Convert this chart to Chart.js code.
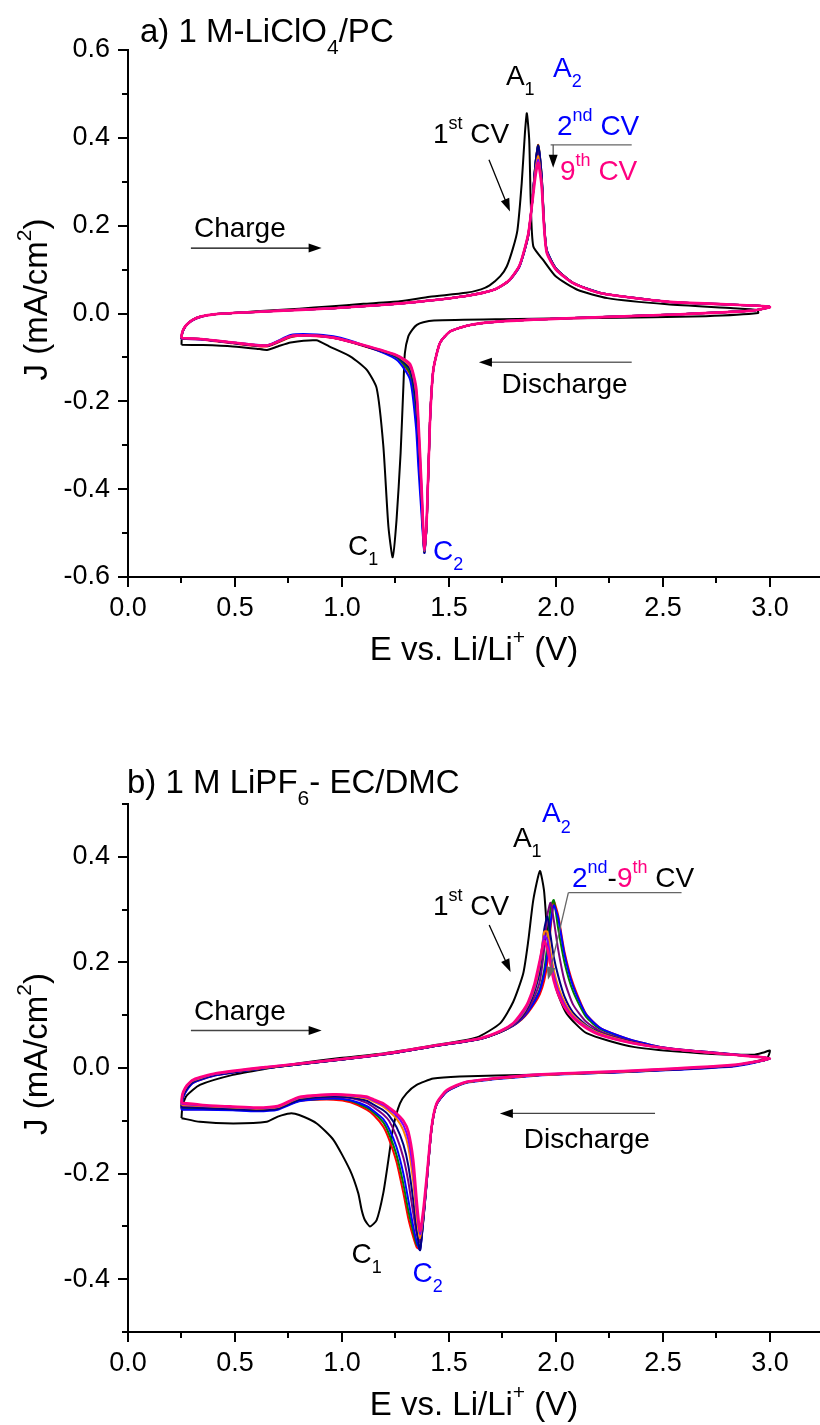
<!DOCTYPE html>
<html>
<head>
<meta charset="utf-8">
<script src="https://cdn.jsdelivr.net/npm/chart.js@4.4.0/dist/chart.umd.min.js"></script>
<style>
  html, body { margin: 0; padding: 0; background: #fff; }
  .panel { position: absolute; left: 0; width: 820px; }
  #wrapA { top: 0; height: 700px; }
  #wrapB { top: 700px; height: 725px; }
</style>
</head>
<body>
<div class="panel" id="wrapA"><canvas id="cvA"></canvas></div>
<div class="panel" id="wrapB"><canvas id="cvB"></canvas></div>
<script>
// ---- panel a) 1 M LiClO4 / PC ----
// 1st cycle, potential (V) and current density (mA/cm2), read along the sweep
const a_E1 = [0.25, 0.252, 0.26, 0.275, 0.30, 0.34, 0.40, 0.49, 0.60, 0.80, 0.94, 1.10, 1.27, 1.41, 1.58, 1.65, 1.69, 1.74, 1.77, 1.80,
  1.82, 1.84, 1.855, 1.864, 1.875, 1.882, 1.894, 1.94, 2.00, 2.10, 2.24, 2.52, 2.83, 2.94, 2.945, 2.70, 2.21, 1.74, 1.43, 1.38,
  1.35, 1.33, 1.31, 1.294, 1.287, 1.274, 1.255, 1.237, 1.217, 1.193, 1.162, 1.115, 1.04, 0.94, 0.88, 0.76, 0.70, 0.65, 0.60, 0.49, 0.35, 0.25];
const a_J1 = [-0.071, -0.05, -0.035, -0.025, -0.015, -0.007, -0.002, 0.001, 0.005, 0.011, 0.016, 0.022, 0.028, 0.038, 0.047, 0.055, 0.064, 0.085, 0.107, 0.15,
  0.19, 0.297, 0.411, 0.456, 0.396, 0.259, 0.153, 0.122, 0.084, 0.054, 0.035, 0.021, 0.012, 0.008, 0.001, -0.006, -0.01, -0.013, -0.016, -0.02,
  -0.026, -0.036, -0.052, -0.09, -0.166, -0.318, -0.47, -0.555, -0.485, -0.3, -0.17, -0.128, -0.098, -0.075, -0.061, -0.066, -0.075, -0.083, -0.08, -0.075, -0.072, -0.071];

// cycles 2..9 share one potential grid
const a_E = [0.25, 0.252, 0.26, 0.275, 0.30, 0.34, 0.40, 0.49, 0.70, 0.96, 1.20, 1.36, 1.58, 1.71, 1.78, 1.83, 1.87, 1.89, 1.905, 1.917, 1.933, 1.944, 1.957, 2.00, 2.08, 2.21, 2.52, 2.83, 3.00,
  2.91, 2.52, 2.05, 1.74, 1.60, 1.505, 1.458, 1.427, 1.411, 1.396, 1.385, 1.372, 1.357, 1.346, 1.318, 1.255, 1.10, 0.96, 0.85, 0.76, 0.65, 0.49, 0.34, 0.25];
const a_J2 = [-0.058, -0.047, -0.036, -0.026, -0.016, -0.008, -0.002, 0.001, 0.006, 0.012, 0.02, 0.027, 0.04, 0.054, 0.074, 0.108, 0.175, 0.258, 0.345, 0.384, 0.315, 0.212, 0.144, 0.103, 0.07, 0.047, 0.027, 0.02, 0.015,
  0.006, -0.003, -0.011, -0.018, -0.026, -0.041, -0.067, -0.128, -0.25, -0.48, -0.54, -0.44, -0.32, -0.23, -0.14, -0.1, -0.074, -0.056, -0.051, -0.054, -0.075, -0.068, -0.059, -0.058];
const a_J3 = [-0.057, -0.047, -0.036, -0.025, -0.015, -0.007, -0.002, 0.001, 0.006, 0.012, 0.02, 0.027, 0.04, 0.054, 0.074, 0.108, 0.175, 0.258, 0.345, 0.383, 0.315, 0.215, 0.145, 0.103, 0.07, 0.047, 0.027, 0.02, 0.015,
  0.006, -0.003, -0.011, -0.018, -0.026, -0.041, -0.067, -0.128, -0.25, -0.48, -0.54, -0.43, -0.3, -0.215, -0.135, -0.1, -0.073, -0.055, -0.05, -0.053, -0.074, -0.067, -0.058, -0.057];
const a_J4 = [-0.058, -0.048, -0.037, -0.026, -0.016, -0.008, -0.002, 0.001, 0.006, 0.012, 0.02, 0.027, 0.04, 0.054, 0.074, 0.107, 0.175, 0.258, 0.345, 0.38, 0.315, 0.212, 0.145, 0.103, 0.07, 0.047, 0.027, 0.02, 0.015,
  0.006, -0.003, -0.011, -0.018, -0.026, -0.041, -0.067, -0.128, -0.25, -0.48, -0.545, -0.46, -0.35, -0.26, -0.15, -0.105, -0.072, -0.052, -0.047, -0.049, -0.072, -0.066, -0.059, -0.058];
const a_J5 = [-0.057, -0.047, -0.036, -0.025, -0.015, -0.007, -0.002, 0.001, 0.006, 0.012, 0.02, 0.027, 0.04, 0.054, 0.075, 0.109, 0.178, 0.26, 0.34, 0.375, 0.308, 0.208, 0.142, 0.102, 0.07, 0.046, 0.027, 0.02, 0.015,
  0.006, -0.003, -0.011, -0.018, -0.026, -0.041, -0.067, -0.128, -0.25, -0.475, -0.54, -0.41, -0.265, -0.185, -0.122, -0.097, -0.073, -0.054, -0.049, -0.051, -0.073, -0.067, -0.058, -0.057];
const a_J6 = [-0.057, -0.047, -0.036, -0.025, -0.015, -0.007, -0.002, 0.001, 0.006, 0.012, 0.02, 0.027, 0.04, 0.054, 0.075, 0.109, 0.178, 0.26, 0.345, 0.382, 0.31, 0.21, 0.142, 0.102, 0.07, 0.046, 0.027, 0.02, 0.015,
  0.006, -0.003, -0.011, -0.018, -0.026, -0.041, -0.067, -0.128, -0.25, -0.48, -0.545, -0.42, -0.28, -0.2, -0.128, -0.098, -0.073, -0.055, -0.05, -0.052, -0.074, -0.067, -0.058, -0.057];
const a_J7 = [-0.056, -0.046, -0.035, -0.025, -0.015, -0.007, -0.002, 0.001, 0.006, 0.012, 0.02, 0.027, 0.04, 0.054, 0.075, 0.11, 0.18, 0.26, 0.33, 0.358, 0.3, 0.205, 0.14, 0.101, 0.069, 0.046, 0.027, 0.02, 0.015,
  0.006, -0.003, -0.011, -0.018, -0.026, -0.041, -0.067, -0.128, -0.25, -0.475, -0.54, -0.405, -0.255, -0.178, -0.12, -0.096, -0.072, -0.055, -0.05, -0.052, -0.073, -0.066, -0.058, -0.056];
const a_J8 = [-0.056, -0.046, -0.035, -0.025, -0.015, -0.007, -0.002, 0.001, 0.006, 0.012, 0.02, 0.027, 0.04, 0.054, 0.075, 0.11, 0.18, 0.258, 0.322, 0.35, 0.295, 0.203, 0.14, 0.1, 0.069, 0.046, 0.027, 0.02, 0.015,
  0.006, -0.003, -0.011, -0.018, -0.026, -0.041, -0.067, -0.128, -0.25, -0.47, -0.538, -0.4, -0.25, -0.17, -0.117, -0.095, -0.072, -0.055, -0.05, -0.052, -0.073, -0.066, -0.058, -0.056];
const a_J9 = [-0.056, -0.046, -0.035, -0.025, -0.015, -0.007, -0.002, 0.001, 0.006, 0.012, 0.02, 0.027, 0.04, 0.054, 0.075, 0.11, 0.18, 0.255, 0.315, 0.343, 0.29, 0.2, 0.138, 0.1, 0.069, 0.046, 0.027, 0.02, 0.015,
  0.006, -0.003, -0.011, -0.018, -0.026, -0.041, -0.067, -0.128, -0.25, -0.47, -0.535, -0.394, -0.242, -0.166, -0.115, -0.095, -0.072, -0.055, -0.05, -0.052, -0.073, -0.066, -0.058, -0.056];

// ---- panel b) 1 M LiPF6 - EC/DMC ----
const b_E1 = [0.25, 0.255, 0.275, 0.336, 0.49, 0.65, 0.80, 0.99, 1.20, 1.43, 1.63, 1.74, 1.80, 1.847, 1.871, 1.894, 1.925, 1.944, 1.956, 1.972,
  2.003, 2.05, 2.143, 2.361, 2.673, 2.922, 2.975, 3.0, 2.985, 2.83, 2.36, 1.894, 1.55, 1.427, 1.349, 1.302, 1.271, 1.24, 1.217, 1.193,
  1.162, 1.131, 1.107, 1.092, 1.076, 1.037, 0.96, 0.882, 0.80, 0.757, 0.70, 0.648, 0.492, 0.336, 0.25];
const b_J1 = [-0.095, -0.07, -0.052, -0.032, -0.013, -0.001, 0.009, 0.019, 0.028, 0.043, 0.058, 0.085, 0.125, 0.179, 0.242, 0.318, 0.373, 0.337, 0.274, 0.211,
  0.148, 0.103, 0.066, 0.04, 0.028, 0.025, 0.03, 0.033, 0.018, 0.005, -0.007, -0.013, -0.016, -0.02, -0.032, -0.048, -0.067, -0.111, -0.174, -0.237,
  -0.288, -0.3, -0.288, -0.269, -0.237, -0.193, -0.136, -0.105, -0.089, -0.086, -0.092, -0.102, -0.105, -0.102, -0.095];

const b_E = [0.25, 0.252, 0.258, 0.275, 0.305, 0.41, 0.65, 0.96, 1.2, 1.46, 1.645, 1.74, 1.80, 1.84, 1.87, 1.90, 1.925, 1.945, 1.96, 1.975, 1.99, 2.01, 2.04, 2.08, 2.14, 2.21, 2.36, 2.52, 2.83, 3.0,
  2.83, 2.36, 1.894, 1.583, 1.49, 1.442, 1.419, 1.396, 1.38, 1.365, 1.35, 1.333, 1.31, 1.287, 1.255, 1.22, 1.193, 1.15, 1.115, 1.04, 0.96, 0.80, 0.70, 0.60, 0.49, 0.35, 0.25];
const b_J2 = [-0.078, -0.067, -0.055, -0.041, -0.028, -0.014, 0.0, 0.014, 0.026, 0.043, 0.055, 0.068, 0.08, 0.092, 0.105, 0.122, 0.14, 0.165, 0.2, 0.265, 0.315, 0.29, 0.22, 0.16, 0.103, 0.075, 0.052, 0.038, 0.026, 0.018,
  0.004, -0.006, -0.014, -0.027, -0.044, -0.069, -0.114, -0.216, -0.288, -0.342, -0.34, -0.32, -0.285, -0.237, -0.178, -0.135, -0.111, -0.09, -0.079, -0.065, -0.06, -0.062, -0.077, -0.08, -0.079, -0.078, -0.078];
const b_J3 = [-0.076, -0.065, -0.053, -0.04, -0.027, -0.013, 0.0, 0.014, 0.026, 0.043, 0.055, 0.068, 0.08, 0.093, 0.108, 0.128, 0.15, 0.185, 0.235, 0.305, 0.318, 0.265, 0.2, 0.145, 0.097, 0.073, 0.051, 0.037, 0.025, 0.018,
  0.004, -0.006, -0.014, -0.027, -0.044, -0.069, -0.114, -0.216, -0.288, -0.338, -0.335, -0.31, -0.27, -0.22, -0.165, -0.125, -0.103, -0.085, -0.075, -0.062, -0.058, -0.062, -0.077, -0.08, -0.079, -0.077, -0.076];
const b_J4 = [-0.079, -0.068, -0.056, -0.042, -0.028, -0.014, 0.0, 0.014, 0.026, 0.043, 0.055, 0.068, 0.08, 0.093, 0.107, 0.126, 0.147, 0.178, 0.215, 0.275, 0.308, 0.285, 0.215, 0.155, 0.102, 0.075, 0.052, 0.038, 0.026, 0.018,
  0.003, -0.007, -0.015, -0.028, -0.045, -0.07, -0.115, -0.218, -0.29, -0.345, -0.33, -0.3, -0.25, -0.2, -0.15, -0.115, -0.097, -0.082, -0.072, -0.061, -0.058, -0.063, -0.079, -0.082, -0.08, -0.079, -0.079];
const b_J5 = [-0.072, -0.061, -0.05, -0.037, -0.025, -0.012, 0.001, 0.014, 0.026, 0.043, 0.055, 0.068, 0.081, 0.095, 0.112, 0.135, 0.165, 0.225, 0.29, 0.313, 0.28, 0.225, 0.165, 0.12, 0.088, 0.069, 0.05, 0.037, 0.025, 0.018,
  0.004, -0.006, -0.014, -0.027, -0.044, -0.069, -0.114, -0.215, -0.285, -0.33, -0.315, -0.275, -0.215, -0.17, -0.13, -0.1, -0.088, -0.075, -0.066, -0.057, -0.055, -0.059, -0.075, -0.078, -0.076, -0.074, -0.072];
const b_J6 = [-0.075, -0.064, -0.052, -0.039, -0.026, -0.013, 0.0, 0.014, 0.026, 0.043, 0.055, 0.068, 0.082, 0.097, 0.116, 0.145, 0.185, 0.262, 0.287, 0.25, 0.21, 0.175, 0.135, 0.105, 0.082, 0.066, 0.049, 0.037, 0.025, 0.018,
  0.004, -0.006, -0.014, -0.027, -0.044, -0.069, -0.114, -0.215, -0.285, -0.345, -0.31, -0.25, -0.185, -0.145, -0.112, -0.09, -0.08, -0.07, -0.062, -0.056, -0.054, -0.06, -0.077, -0.08, -0.078, -0.076, -0.075];
const b_J7 = [-0.07, -0.059, -0.048, -0.035, -0.024, -0.011, 0.001, 0.015, 0.027, 0.044, 0.056, 0.069, 0.083, 0.1, 0.12, 0.152, 0.198, 0.258, 0.258, 0.22, 0.185, 0.155, 0.125, 0.1, 0.08, 0.065, 0.048, 0.037, 0.025, 0.018,
  0.005, -0.006, -0.014, -0.027, -0.043, -0.068, -0.113, -0.212, -0.28, -0.322, -0.285, -0.215, -0.15, -0.118, -0.096, -0.082, -0.073, -0.064, -0.058, -0.053, -0.051, -0.057, -0.074, -0.077, -0.075, -0.072, -0.07];
const b_J8 = [-0.068, -0.057, -0.046, -0.034, -0.023, -0.011, 0.002, 0.015, 0.027, 0.044, 0.056, 0.07, 0.084, 0.102, 0.122, 0.156, 0.202, 0.25, 0.243, 0.205, 0.175, 0.147, 0.12, 0.097, 0.078, 0.063, 0.047, 0.037, 0.025, 0.018,
  0.005, -0.005, -0.013, -0.026, -0.043, -0.068, -0.112, -0.21, -0.275, -0.315, -0.27, -0.195, -0.135, -0.108, -0.09, -0.078, -0.07, -0.062, -0.056, -0.052, -0.05, -0.056, -0.073, -0.076, -0.074, -0.071, -0.068];
const b_J9 = [-0.066, -0.055, -0.045, -0.033, -0.022, -0.01, 0.002, 0.015, 0.027, 0.044, 0.056, 0.07, 0.085, 0.105, 0.125, 0.16, 0.205, 0.24, 0.225, 0.195, 0.165, 0.14, 0.115, 0.095, 0.076, 0.062, 0.047, 0.037, 0.025, 0.018,
  0.006, -0.005, -0.013, -0.026, -0.042, -0.067, -0.111, -0.206, -0.269, -0.308, -0.255, -0.174, -0.12, -0.1, -0.086, -0.075, -0.067, -0.06, -0.054, -0.051, -0.05, -0.055, -0.072, -0.075, -0.073, -0.07, -0.066];

// ---- styling ----
const FONT = "'Liberation Sans', Arial, Helvetica, sans-serif";
const BLUE = '#0000FF', PINK = '#FF0080';
const cycleColors = ['#FF0000', '#008000', '#0000FF', '#800080', '#000080', '#FF8000', '#8000FF', '#FF0080'];

const isMult = (v, step) => Math.abs(v / step - Math.round(v / step)) < 1e-6;
const pts = (E, J) => E.map((e, i) => ({ x: e, y: J[i] }));

function richText(ctx, x, y, parts, size, align) {
  const small = Math.round(size * 0.64);
  ctx.save();
  ctx.textBaseline = 'alphabetic';
  ctx.textAlign = 'left';
  let w = 0;
  parts.forEach(p => { ctx.font = (p[1] ? small : size) + 'px ' + FONT; w += ctx.measureText(p[0]).width; });
  let cx = align === 'center' ? x - w / 2 : x;
  parts.forEach(p => {
    const kind = p[1] || '';
    ctx.font = (kind ? small : size) + 'px ' + FONT;
    ctx.fillStyle = p[2] || '#000';
    const dy = kind === 'sup' ? -size * 0.5 : kind === 'sub' ? size * 0.36 : 0;
    ctx.fillText(p[0], cx, y + dy);
    cx += ctx.measureText(p[0]).width;
  });
  ctx.restore();
}

function arrow(ctx, x1, y1, x2, y2, color, head) {
  const a = Math.atan2(y2 - y1, x2 - x1), L = 13, W = 4.5;
  ctx.save();
  ctx.strokeStyle = color; ctx.lineWidth = 1.3;
  ctx.beginPath(); ctx.moveTo(x1, y1); ctx.lineTo(x2 - L * 0.8 * Math.cos(a), y2 - L * 0.8 * Math.sin(a)); ctx.stroke();
  ctx.fillStyle = head || color;
  ctx.beginPath();
  ctx.moveTo(x2, y2);
  ctx.lineTo(x2 - L * Math.cos(a) + W * Math.sin(a), y2 - L * Math.sin(a) - W * Math.cos(a));
  ctx.lineTo(x2 - L * Math.cos(a) - W * Math.sin(a), y2 - L * Math.sin(a) + W * Math.cos(a));
  ctx.closePath(); ctx.fill();
  ctx.restore();
}

// ticks, axis titles, panel title and the annotations
function decorPlugin(cfg) {
  return {
    id: 'decor',
    afterDraw(chart) {
      const ctx = chart.ctx, xs = chart.scales.x, ys = chart.scales.y, area = chart.chartArea;
      const X = e => xs.getPixelForValue(e), Y = j => ys.getPixelForValue(j);

      ctx.save();
      ctx.strokeStyle = '#000'; ctx.lineWidth = 2;
      xs.ticks.forEach(t => {
        const p = Math.round(X(t.value));
        ctx.beginPath(); ctx.moveTo(p, area.bottom); ctx.lineTo(p, area.bottom + (isMult(t.value, 0.5) ? 10 : 6)); ctx.stroke();
      });
      ys.ticks.forEach(t => {
        const p = Math.round(Y(t.value));
        ctx.beginPath(); ctx.moveTo(area.left, p); ctx.lineTo(area.left - (isMult(t.value, 0.2) ? 10 : 6), p); ctx.stroke();
      });
      ctx.restore();

      richText(ctx, (area.left + area.right) / 2, area.bottom + 83, [['E vs. Li/Li'], ['+', 'sup'], [' (V)']], 33, 'center');
      ctx.save();
      ctx.translate(47, (area.top + area.bottom) / 2 - 14);
      ctx.rotate(-Math.PI / 2);
      richText(ctx, 0, 0, [['J (mA/cm'], ['2', 'sup'], [')']], 33, 'center');
      ctx.restore();

      richText(ctx, area.left + cfg.titleDx, area.top + cfg.titleDy, cfg.title, 33);

      cfg.lines.forEach(l => {
        ctx.save();
        ctx.strokeStyle = l.color; ctx.lineWidth = 1.3;
        ctx.beginPath(); ctx.moveTo(X(l.from[0]), Y(l.from[1])); ctx.lineTo(X(l.to[0]), Y(l.to[1])); ctx.stroke();
        ctx.restore();
      });
      cfg.arrows.forEach(a => arrow(ctx, X(a.from[0]), Y(a.from[1]), X(a.to[0]), Y(a.to[1]), a.color, a.head));
      cfg.labels.forEach(l => richText(ctx, X(l.at[0]), Y(l.at[1]), l.parts, 28));
    }
  };
}

function cycleSets(E, Js) {
  const sets = [];
  Js.forEach((J, i) => {
    sets.push({
      data: pts(E, J),
      borderColor: cycleColors[i],
      borderWidth: i === Js.length - 1 ? 2.6 : 2,
      order: Js.length - 1 - i,
    });
  });
  return sets;
}

function makePanel(id, p) {
  const datasets = [{ data: pts(p.E1, p.J1), borderColor: '#000', borderWidth: 2, order: 20 }]
    .concat(cycleSets(p.E, p.Js));
  return new Chart(document.getElementById(id), {
    type: 'scatter',
    data: { datasets },
    options: {
      responsive: true,
      maintainAspectRatio: false,
      animation: false,
      layout: { padding: { top: p.top, left: 0, right: 0, bottom: 0 } },
      plugins: { legend: { display: false }, tooltip: { enabled: false } },
      elements: { point: { radius: 0 }, line: { tension: 0.2, fill: false } },
      datasets: { scatter: { showLine: true } },
      scales: {
        x: {
          type: 'linear', min: 0, max: 3.234,
          afterFit: s => { s.height = p.xBox; },
          grid: { display: false },
          border: { display: true, color: '#000', width: 2 },
          ticks: {
            stepSize: 0.25, includeBounds: false, autoSkip: false, maxRotation: 0, padding: 7,
            color: '#000', font: { family: FONT, size: 27 },
            callback: v => isMult(v, 0.5) ? v.toFixed(1) : ''
          }
        },
        y: {
          type: 'linear', min: p.yMin, max: p.yMax,
          afterFit: s => { s.width = 128; },
          grid: { display: false },
          border: { display: true, color: '#000', width: 2 },
          ticks: {
            stepSize: 0.1, includeBounds: false, autoSkip: false, padding: 10,
            color: '#000', font: { family: FONT, size: 27 },
            callback: v => isMult(v, 0.2) ? v.toFixed(1) : ''
          }
        }
      }
    },
    plugins: [decorPlugin(p.decor)]
  });
}

makePanel('cvA', {
  E1: a_E1, J1: a_J1, E: a_E, Js: [a_J2, a_J3, a_J4, a_J5, a_J6, a_J7, a_J8, a_J9],
  top: 50, xBox: 123, yMin: -0.6, yMax: 0.6,
  decor: {
    title: [['a) 1 M-LiClO'], ['4', 'sub'], ['/PC']], titleDx: 12, titleDy: -8,
    labels: [
      { at: [1.766, 0.521], parts: [['A'], ['1', 'sub']] },
      { at: [1.986, 0.539], parts: [['A', '', BLUE], ['2', 'sub', BLUE]] },
      { at: [1.425, 0.389], parts: [['1'], ['st', 'sup'], [' CV']] },
      { at: [2.005, 0.407], parts: [['2', '', BLUE], ['nd', 'sup', BLUE], [' CV', '', BLUE]] },
      { at: [2.019, 0.305], parts: [['9', '', PINK], ['th', 'sup', PINK], [' CV', '', PINK]] },
      { at: [0.308, 0.175], parts: [['Charge']] },
      { at: [1.746, -0.181], parts: [['Discharge']] },
      { at: [1.028, -0.550], parts: [['C'], ['1', 'sub']] },
      { at: [1.425, -0.561], parts: [['C', '', BLUE], ['2', 'sub', BLUE]] }
    ],
    arrows: [
      { from: [1.687, 0.350], to: [1.785, 0.232], color: '#000' },
      { from: [1.987, 0.384], to: [1.987, 0.332], color: '#555', head: '#000' },
      { from: [0.294, 0.149], to: [0.905, 0.149], color: '#000' },
      { from: [2.354, -0.111], to: [1.640, -0.111], color: '#666', head: '#000' }
    ],
    lines: [{ from: [1.975, 0.384], to: [2.354, 0.384], color: '#666' }]
  }
});

makePanel('cvB', {
  E1: b_E1, J1: b_J1, E: b_E, Js: [b_J2, b_J3, b_J4, b_J5, b_J6, b_J7, b_J8, b_J9],
  top: 104, xBox: 93, yMin: -0.5, yMax: 0.5,
  decor: {
    title: [['b) 1 M LiPF'], ['6', 'sub'], ['- EC/DMC']], titleDx: -1, titleDy: -11,
    labels: [
      { at: [1.799, 0.418], parts: [['A'], ['1', 'sub']] },
      { at: [1.935, 0.465], parts: [['A', '', BLUE], ['2', 'sub', BLUE]] },
      { at: [1.425, 0.289], parts: [['1'], ['st', 'sup'], [' CV']] },
      { at: [2.075, 0.342], parts: [['2', '', BLUE], ['nd', 'sup', BLUE], ['-'], ['9', '', PINK], ['th', 'sup', PINK], [' CV']] },
      { at: [0.308, 0.091], parts: [['Charge']] },
      { at: [1.850, -0.151], parts: [['Discharge']] },
      { at: [1.045, -0.369], parts: [['C'], ['1', 'sub']] },
      { at: [1.330, -0.405], parts: [['C', '', BLUE], ['2', 'sub', BLUE]] }
    ],
    arrows: [
      { from: [1.688, 0.271], to: [1.788, 0.182], color: '#000' },
      { from: [2.058, 0.332], to: [1.963, 0.167], color: '#666' },
      { from: [0.294, 0.071], to: [0.905, 0.071], color: '#444', head: '#000' },
      { from: [2.463, -0.086], to: [1.738, -0.086], color: '#444', head: '#000' }
    ],
    lines: [{ from: [2.058, 0.332], to: [2.587, 0.332], color: '#666' }]
  }
});
</script>
</body>
</html>
